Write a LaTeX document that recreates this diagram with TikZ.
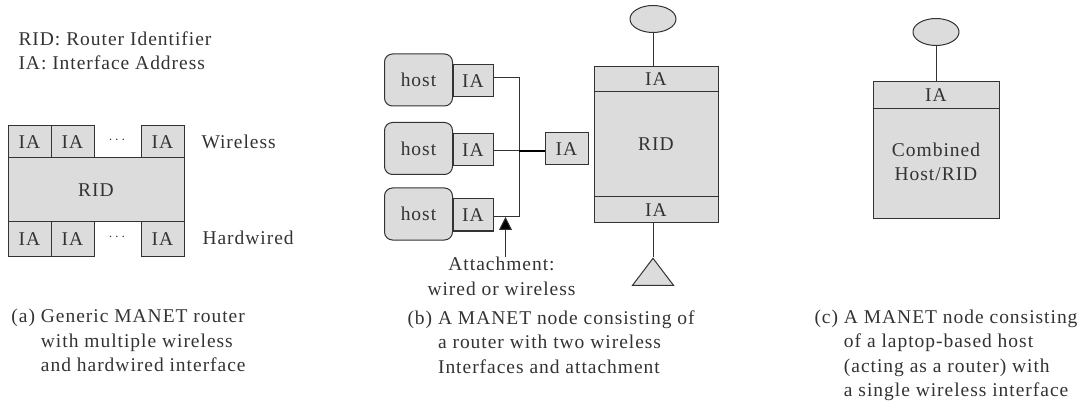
\documentclass[tikz,border=0pt]{standalone}
\usepackage{fontspec}
\setmainfont{Liberation Serif}[LetterSpace=5]
\usetikzlibrary{arrows.meta,shapes.geometric}
\definecolor{boxgray}{HTML}{DCDCDC}
\definecolor{inkgray}{HTML}{333333}
\begin{document}
\begin{tikzpicture}[x=1pt,y=-1pt,line width=1pt,font=\fontsize{19.5}{24.5}\selectfont,text=inkgray]
	\tikzstyle{graybox}=[draw=black!80,fill=boxgray,rectangle,inner sep=0pt,align=center]
	\tikzstyle{iabox}=[graybox,minimum width=43pt,minimum height=32pt]
	\tikzstyle{hostbox}=[graybox,rounded corners=8pt,minimum width=68pt,minimum height=52pt]
	\tikzstyle{antenna}=[graybox,ellipse,minimum width=46pt,minimum height=27pt]
	\tikzstyle{wired}=[graybox,isosceles triangle,shape border rotate=90,isosceles triangle stretches,minimum width=41pt,minimum height=27pt]
	\tikzstyle{plain}=[inner sep=0pt,align=left,anchor=west]
	\tikzstyle{dotted row}=[inner sep=0pt,font=\fontsize{15}{15}\selectfont]
	\tikzstyle{link}=[draw=black!80]
	\useasboundingbox (0,0) rectangle (1084,406);

	\node[plain] (legend) at (18,51) {RID: Router Identifier\\IA: Interface Address};

	\node[graybox,minimum width=176pt,minimum height=64pt] (ridA) at (96,190) {RID};
	\node[iabox] (wa) at (29.5,142) {IA};
	\node[iabox] (wb) at (72.5,142) {IA};
	\node[iabox] (wc) at (162.5,142) {IA};
	\node[iabox,minimum height=34pt] (ha) at (29.5,239) {IA};
	\node[iabox,minimum height=34pt] (hb) at (72.5,239) {IA};
	\node[iabox,minimum height=34pt] (hc) at (162.5,239) {IA};
	\node[dotted row] (wdots) at (117,140) {$\cdots$};
	\node[dotted row] (hdots) at (117,237) {$\cdots$};
	\node[plain] (wireless) at (201,142) {Wireless};
	\node[plain] (hardwired) at (202,238) {Hardwired};
	\node[plain] (capA) at (11,342.5) {(a) Generic MANET router\\\phantom{(a) }with multiple wireless\\\phantom{(a) }and hardwired interface};

	\node[hostbox] (host1) at (418.5,80) {host};
	\node[hostbox] (host2) at (418.5,148.5) {host};
	\node[hostbox] (host3) at (418.5,214) {host};
	\node[iabox,minimum width=40pt] (ia1) at (473,81) {IA};
	\node[iabox,minimum width=40pt] (ia2) at (473,150) {IA};
	\node[iabox,minimum width=40pt] (ia3) at (473,215) {IA};
	\node[iabox] (iaR) at (566.5,149) {IA};
	\coordinate (bus1) at (519,78);
	\coordinate (bus2) at (519,151);
	\coordinate (bus3) at (519,216.5);
	\draw[link] (ia1.east |- bus1) -- (bus1) -- (bus3) -- (ia3.east |- bus3);
	\draw[link] (ia2.east |- bus2) -- (bus2);
	\draw[draw=black,line width=1.6pt] (bus2) -- (iaR.west |- bus2);

	\node[graybox,minimum width=124pt,minimum height=105pt] (ridB) at (656,144.5) {RID};
	\node[graybox,minimum width=124pt,minimum height=25pt] (iaT) at (656,79.5) {IA};
	\node[graybox,minimum width=124pt,minimum height=26pt] (iaB) at (656,210) {IA};
	\node[antenna] (antB) at (653,19) {};
	\node[wired,anchor=apex] (triB) at (653,257) {};
	\draw[link] (antB) -- (antB |- iaT.north);
	\draw[link] (triB.apex |- iaB.south) -- (triB.apex);

	\node[inner sep=0pt,align=center] (attach) at (501.5,276.5) {Attachment:\\wired or wireless};
	\coordinate (attachTip) at (505.5,217);
	\draw[link,-{Triangle[length=13pt,width=13pt,fill=black]}] (attachTip |- attach.north) -- (attachTip);

	\node[plain] (capB) at (407,344) {(b) A MANET node consisting of\\\phantom{(b) }a router with two wireless\\\phantom{(b) }Interfaces and attachment};

	\node[graybox,minimum width=126pt,minimum height=110pt] (ridC) at (936,164) {};
	\node[inner sep=0pt,align=center] (ridCtext) at (936,162) {Combined\\Host/RID};
	\node[graybox,minimum width=126pt,minimum height=27pt] (iaC) at (936,95.5) {IA};
	\node[antenna] (antC) at (936,32) {};
	\draw[link] (antC) -- (iaC);

	\node[plain] (capC) at (814,355.5) {(c) A MANET node consisting\\\phantom{(c) }of a laptop-based host\\\phantom{(c) }(acting as a router) with\\\phantom{(c) }a single wireless interface};
\end{tikzpicture}
\end{document}
